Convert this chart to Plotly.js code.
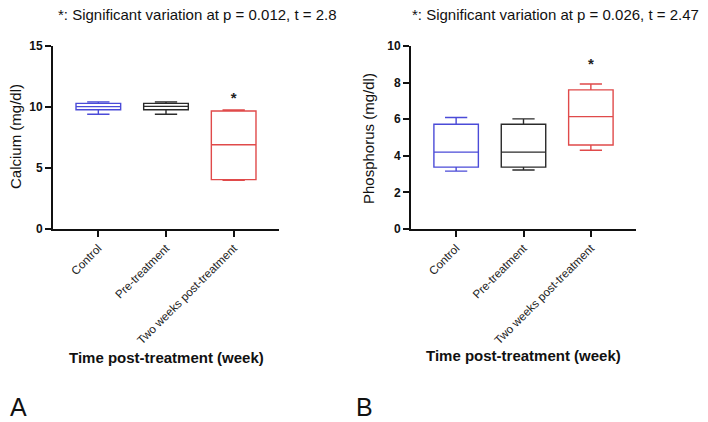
<!DOCTYPE html>
<html>
<head>
<meta charset="utf-8">
<script src="https://cdn.plot.ly/plotly-3.0.1.min.js"></script>
<style>
  html, body { margin: 0; padding: 0; background: #fff; }
  #chart { width: 708px; height: 422px; }
</style>
</head>
<body>
<div id="chart"></div>
<script>
// Groups shared by both panels
const groups = ['Control', 'Pre-treatment', 'Two weeks post-treatment'];

// Panel A: serum calcium (mg/dl) box summaries
const caMin = [9.4, 9.4, 4.0];
const caQ1 = [9.78, 9.78, 4.05];
const caMedian = [10.03, 10.05, 6.9];
const caQ3 = [10.3, 10.3, 9.67];
const caMax = [10.42, 10.42, 9.75];

// Panel B: serum phosphorus (mg/dl) box summaries
const pMin = [3.16, 3.22, 4.3];
const pQ1 = [3.38, 3.38, 4.59];
const pMedian = [4.2, 4.2, 6.14];
const pQ3 = [5.72, 5.72, 7.6];
const pMax = [6.09, 6.02, 7.92];

// Significance markers (group index, height)
const caSigGroup = [2];
const caSigY = [10.65];
const pSigGroup = [2];
const pSigY = [8.95];

const boxColors = ['#4b4bd8', '#2b2b2b', '#e04a4a'];
const FONT = 'Arial, "Liberation Sans", sans-serif';

function boxTraces(mins, q1s, meds, q3s, maxs, xa, ya) {
  return groups.map((g, i) => ({
    type: 'box',
    x: [g],
    lowerfence: [mins[i]],
    q1: [q1s[i]],
    median: [meds[i]],
    q3: [q3s[i]],
    upperfence: [maxs[i]],
    boxpoints: false,
    width: 0.66,
    whiskerwidth: 0.5,
    line: { color: boxColors[i], width: 1.4 },
    fillcolor: 'rgba(0,0,0,0)',
    xaxis: xa,
    yaxis: ya,
    showlegend: false,
    hoverinfo: 'skip'
  }));
}

function sigTrace(idx, ys, xa, ya) {
  return {
    type: 'scatter',
    mode: 'text',
    x: idx.map(i => groups[i]),
    y: ys,
    text: idx.map(() => '<b>*</b>'),
    textposition: 'middle center',
    textfont: { family: FONT, size: 15, color: '#222' },
    xaxis: xa,
    yaxis: ya,
    showlegend: false,
    hoverinfo: 'skip'
  };
}

const data = [
  ...boxTraces(caMin, caQ1, caMedian, caQ3, caMax, 'x', 'y'),
  sigTrace(caSigGroup, caSigY, 'x', 'y'),
  ...boxTraces(pMin, pQ1, pMedian, pQ3, pMax, 'x2', 'y2'),
  sigTrace(pSigGroup, pSigY, 'x2', 'y2')
];

const W = 708, H = 422;
const px = v => v / W;
const py = v => 1 - v / H;

function xAxis(left, right, yName) {
  return {
    domain: [px(left), px(right)],
    anchor: yName,
    type: 'category',
    categoryorder: 'array',
    categoryarray: groups,
    range: [-0.67, 2.67],
    showline: true,
    linewidth: 2,
    linecolor: '#111',
    ticks: 'outside',
    ticklen: 6,
    tickwidth: 2,
    tickcolor: '#111',
    tickangle: -45,
    tickfont: { family: FONT, size: 11.6, color: '#222' },
    showgrid: false,
    zeroline: false,
    fixedrange: true
  };
}

function yAxis(top, bottom, xName, maxV, step) {
  return {
    domain: [py(bottom), py(top)],
    anchor: xName,
    range: [0, maxV],
    dtick: step,
    tick0: 0,
    showline: true,
    linewidth: 2,
    linecolor: '#111',
    ticks: 'outside',
    ticklen: 6,
    tickwidth: 2,
    tickcolor: '#111',
    tickfont: { family: FONT, size: 12, color: '#111', weight: 'bold' },
    showgrid: false,
    zeroline: false,
    fixedrange: true
  };
}

function note(text, x, y, opts) {
  return Object.assign({
    text: text,
    xref: 'paper', yref: 'paper',
    x: px(x), y: py(y),
    xanchor: 'center', yanchor: 'middle',
    showarrow: false,
    font: { family: FONT, size: 15, color: '#111' }
  }, opts || {});
}

const layout = {
  width: W,
  height: H,
  margin: { l: 0, r: 0, t: 0, b: 0 },
  paper_bgcolor: '#fff',
  plot_bgcolor: '#fff',
  boxmode: 'overlay',
  xaxis: xAxis(53, 279, 'y'),
  yaxis: yAxis(46, 229, 'x', 15, 5),
  xaxis2: xAxis(411, 636, 'y2'),
  yaxis2: yAxis(46, 229, 'x2', 10, 2),
  annotations: [
    note('*: Significant variation at p = 0.012, t = 2.8', 197, 14),
    note('*: Significant variation at p = 0.026, t = 2.47', 555, 14),
    note('Calcium (mg/dl)', 15, 137, { textangle: -90 }),
    note('Phosphorus (mg/dl)', 368, 139, { textangle: -90 }),
    note('<b>Time post-treatment (week)</b>', 166, 357),
    note('<b>Time post-treatment (week)</b>', 523, 355),
    note('A', 18, 407, { font: { family: FONT, size: 25, color: '#111' } }),
    note('B', 364, 407, { font: { family: FONT, size: 25, color: '#111' } })
  ]
};

Plotly.newPlot('chart', data, layout, { staticPlot: true, displayModeBar: false });
</script>
</body>
</html>
